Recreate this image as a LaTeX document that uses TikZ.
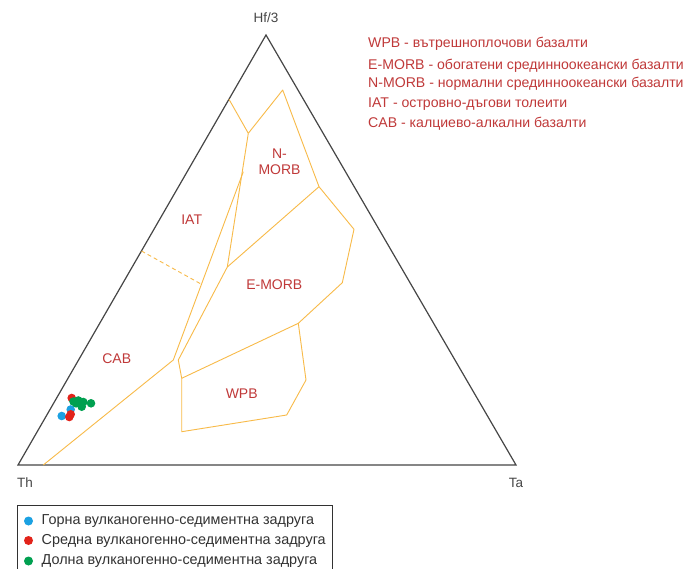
\documentclass[tikz,border=0pt]{standalone}
\usepackage{fontspec}
\setmainfont{Liberation Sans}
\definecolor{axisgray}{RGB}{70,70,70}
\definecolor{fieldorange}{RGB}{248,186,72}
\definecolor{labelred}{RGB}{192,57,57}
\definecolor{dotblue}{RGB}{27,161,226}
\definecolor{dotred}{RGB}{226,35,26}
\definecolor{dotgreen}{RGB}{0,160,80}
\definecolor{legendgray}{RGB}{50,50,50}
\begin{document}
\begin{tikzpicture}[x=1pt,y=-1pt,
  axisline/.style={draw=axisgray,line width=1.2pt},
  field/.style={draw=fieldorange,line width=0.9pt,line join=round},
  fielddash/.style={field,dash pattern=on 4pt off 3pt},
  fieldlabel/.style={text=labelred,font=\fontsize{14}{15}\selectfont,inner sep=0pt,align=center},
  vertexlabel/.style={text=axisgray,font=\fontsize{13.5}{15}\selectfont,inner sep=0pt},
  keytext/.style={text=labelred,font=\fontsize{14.1}{15}\selectfont,inner sep=0pt,anchor=west},
  legtext/.style={text=legendgray,font=\fontsize{14.4}{15}\selectfont,inner sep=0pt,anchor=west},
  dotb/.style={fill=dotblue,draw=none},
  dotr/.style={fill=dotred,draw=none},
  dotg/.style={fill=dotgreen,draw=none}]
\useasboundingbox (0,0) rectangle (687,569);
\clip (0,0) rectangle (687,569);
\fill[white] (0,0) rectangle (687,569);

% triangle vertices
\coordinate (Th) at (18,465);
\coordinate (Ta) at (516,465);
\coordinate (Hf) at (266,35);
\draw[axisline,line join=miter] (Th) -- (Ta) -- (Hf) -- cycle;

\node[vertexlabel] (lHf) at (266,18) {Hf/3};
\node[vertexlabel] (lTh) at (25,483) {Th};
\node[vertexlabel] (lTa) at (516,483) {Ta};

% field boundary points
\coordinate (A) at (229,99.3);
\coordinate (J) at (248.3,133.3);
\coordinate (T) at (282.7,90);
\coordinate (R1) at (319,186.7);
\coordinate (R2) at (354,229.3);
\coordinate (R3) at (342.3,282.7);
\coordinate (R4) at (298.3,323.3);
\coordinate (R5) at (306,380);
\coordinate (R6) at (286.7,415);
\coordinate (R7) at (181.7,431.7);
\coordinate (R8) at (181.7,378.3);
\coordinate (R9) at (178.3,360);
\coordinate (K) at (227.3,267);
\coordinate (B) at (243.3,171.7);
\coordinate (C) at (173.3,360);
\coordinate (D) at (43.3,465);
\coordinate (E) at (201,284);
\coordinate (F) at (141.5,251);

\draw[field] (A) -- (J) -- (T) -- (R1) -- (R2) -- (R3) -- (R4);
\draw[field] (J) -- (K) -- (R9) -- (R8);
\draw[field] (K) -- (R1);
\draw[field] (B) -- (C) -- (D);
\draw[field] (R4) -- (R5) -- (R6) -- (R7) -- (R8) -- cycle;
\draw[fielddash] (F) -- (E);

% field labels
\node[fieldlabel] (lN) at (279.5,162) {N-\\[1pt]MORB};
\node[fieldlabel] (lIAT) at (191.7,219.5) {IAT};
\node[fieldlabel] (lE) at (274.3,285) {E-MORB};
\node[fieldlabel] (lCAB) at (116.7,358.5) {CAB};
\node[fieldlabel] (lWPB) at (241.7,393.5) {WPB};

% key, top right
\node[keytext] (k1) at (368,43.5) {WPB - вътрешноплочови базалти};
\node[keytext] (k2) at (368,65.5) {E-MORB - обогатени срединноокеански базалти};
\node[keytext] (k3) at (368,84) {N-MORB - нормални срединноокеански базалти};
\node[keytext] (k4) at (368,104.5) {IAT - островно-дъгови толеити};
\node[keytext] (k5) at (368,123.5) {CAB - калциево-алкални базалти};

% data points
\fill[dotb] (70.7,409.5) circle (4.3);
\fill[dotb] (61.7,416) circle (4.3);
\fill[dotr] (71.7,398) circle (4.3);
\fill[dotr] (70.7,414.3) circle (4.3);
\fill[dotr] (69.3,417) circle (4.3);
\fill[dotg] (73.5,401.5) circle (4.3);
\fill[dotg] (76,403.3) circle (4.3);
\fill[dotg] (78.3,400.5) circle (4.3);
\fill[dotg] (81.7,403.5) circle (4.3);
\fill[dotg] (81.7,406.7) circle (4.3);
\fill[dotg] (83.3,402) circle (4.3);
\fill[dotg] (91,403.3) circle (4.3);

% legend box
\node[draw=legendgray,line width=0.8pt,minimum width=315pt,minimum height=80pt,anchor=north west,inner sep=0pt] (legbox) at (17,505) {};
\fill[dotblue] (28.5,521) circle (4.5);
\fill[dotred] (28.5,540.5) circle (4.5);
\fill[dotgreen] (28.5,561) circle (4.5);
\node[legtext] (g1) at (41.5,521) {Горна вулканогенно-седиментна задруга};
\node[legtext] (g2) at (41.5,540.5) {Средна вулканогенно-седиментна задруга};
\node[legtext] (g3) at (41.5,561) {Долна вулканогенно-седиментна задруга};
\end{tikzpicture}
\end{document}
